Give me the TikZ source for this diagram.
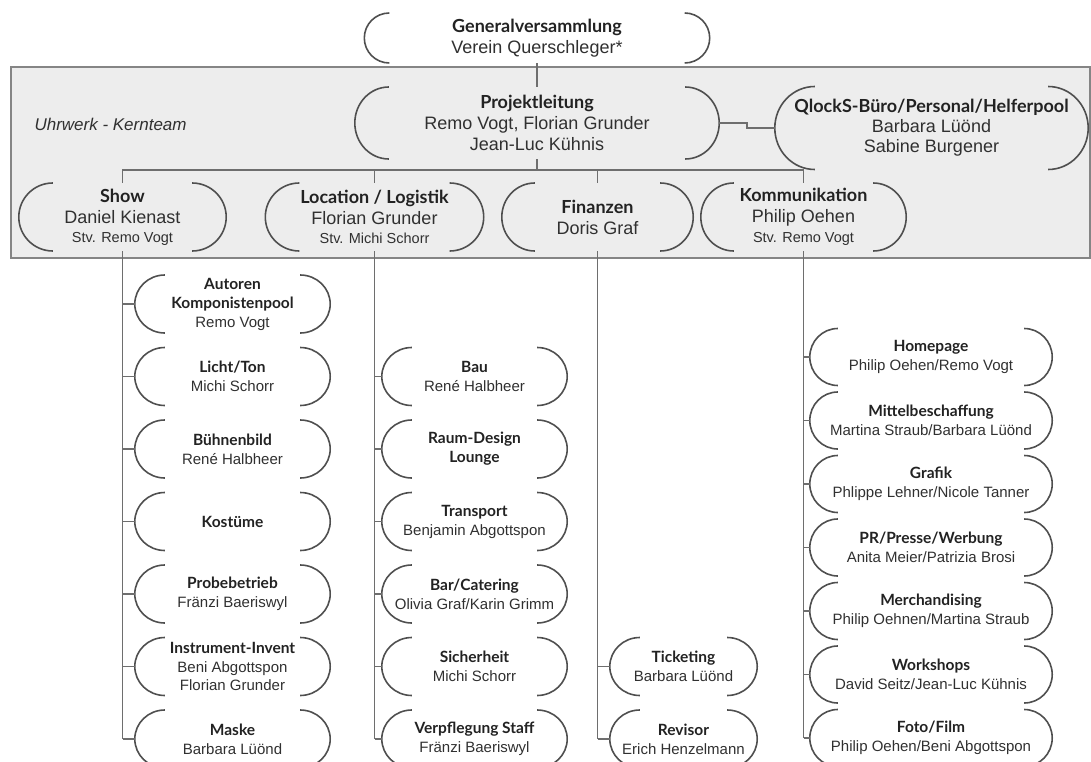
\documentclass[tikz,border=0pt]{standalone}
\usepackage{fontspec}
\setmainfont{Liberation Sans}
\newfontfamily\titlef{Lato}
\usetikzlibrary{calc}
\definecolor{bandfill}{HTML}{EDEDED}
\definecolor{bandline}{HTML}{858585}
\definecolor{brkcol}{HTML}{4F4F4F}
\definecolor{conncol}{HTML}{6E6E6E}
\definecolor{titlecol}{HTML}{222222}
\definecolor{namecol}{HTML}{303030}
\newcommand\TTop{\titlef\bfseries\fontsize{18}{21}\selectfont\color{titlecol}}
\newcommand\NTop{\fontsize{18}{21}\selectfont\color{namecol}}
\newcommand\STop{\fontsize{14.5}{21}\selectfont\color{namecol}}
\newcommand\TSub{\titlef\bfseries\fontsize{15.5}{19}\selectfont\color{titlecol}}
\newcommand\NSub{\fontsize{15}{19}\selectfont\color{namecol}}
% brackets: name, half height, depth
\newcommand\brk[3]{%
  \draw[bracket] ([xshift={#3*1pt}, yshift={#2*1pt}]#1.west) arc[start angle=90, end angle=270, x radius={#3*1pt}, y radius={#2*1pt}];
  \draw[bracket] ([xshift={-#3*1pt}, yshift={#2*1pt}]#1.east) arc[start angle=90, end angle=-90, x radius={#3*1pt}, y radius={#2*1pt}];
}
\tikzset{
  bracket/.style={draw=brkcol, line width=1.6pt},
  conn/.style={draw=conncol, line width=1.5pt},
  band/.style={fill=bandfill, draw=bandline, line width=2pt},
  topbox/.style={align=center, inner sep=0pt, font=\fontsize{18}{21}\selectfont},
  subbox/.style={align=center, inner sep=0pt, font=\fontsize{15}{19}\selectfont, minimum width=#1},
}
\begin{document}
\begin{tikzpicture}[x=1pt, y=-1pt]
\useasboundingbox (0,0) rectangle (1091,762);
\path[band] (11,67) rectangle (1090,258);
\node[anchor=west, font=\fontsize{17}{20}\selectfont\itshape, text=namecol] (uhr) at (31,124) {Uhrwerk - Kernteam};

% top level
\node[topbox, minimum width=345, minimum height=50] (gen) at (537,38) {{\TTop Generalversammlung}\\{\NTop Verein Querschleger*}};
\node[topbox, minimum width=364, minimum height=72] (proj) at (537,123) {{\TTop Projektleitung}\\{\NTop Remo Vogt, Florian Grunder}\\{\NTop Jean-Luc Kühnis}};
\node[topbox, minimum width=313, minimum height=83] (qlock) at (931.5,128) {{\TTop QlockS-Büro/Personal/Helferpool}\\[-1pt]{\NTop Barbara Lüönd}\\[-1pt]{\NTop Sabine Burgener}};
\node[topbox, minimum width=207, minimum height=68] (show) at (122.5,217) {{\TTop Show}\\{\NTop Daniel Kienast}\\[-2pt]{\STop Stv. Remo Vogt}};
\node[topbox, minimum width=218, minimum height=68] (loc) at (374.5,217) {{\TTop Location / Logistik}\\{\NTop Florian Grunder}\\[-2pt]{\STop Stv. Michi Schorr}};
\node[topbox, minimum width=191, minimum height=68] (fin) at (597.5,217) {{\TTop Finanzen}\\{\NTop Doris Graf}};
\node[topbox, minimum width=205, minimum height=68] (komm) at (803.5,217) {{\TTop Kommunikation}\\{\NTop Philip Oehen}\\[-1pt]{\STop Stv. Remo Vogt}};
\brk{gen}{25}{25}
\brk{proj}{36}{34}
\brk{qlock}{41.5}{40}
\brk{show}{34}{34}
\brk{loc}{34}{34}
\brk{fin}{34}{33}
\brk{komm}{34}{33}

% column A
\node[subbox=195] (a1) at (232.5,304) {{\TSub Autoren}\\{\TSub Komponistenpool}\\{\NSub Remo Vogt}};
\node[subbox=195] (a2) at (232.5,376.5) {{\TSub Licht/Ton}\\{\NSub Michi Schorr}};
\node[subbox=195] (a3) at (232.5,449) {{\TSub Bühnenbild}\\{\NSub René Halbheer}};
\node[subbox=195] (a4) at (232.5,521.5) {{\TSub Kostüme}};
\node[subbox=195] (a5) at (232.5,594) {{\TSub Probebetrieb}\\{\NSub Fränzi Baeriswyl}};
\node[subbox=195] (a6) at (232.5,666.5) {{\TSub Instrument-Invent}\\[-0.5pt]{\NSub Beni Abgottspon}\\[-0.5pt]{\NSub Florian Grunder}};
\node[subbox=195] (a7) at (232.5,739) {{\TSub Maske}\\{\NSub Barbara Lüönd}};
% column B
\node[subbox=185] (b1) at (474.5,376.5) {{\TSub Bau}\\{\NSub René Halbheer}};
\node[subbox=185] (b2) at (474.5,449) {{\TSub Raum-Design}\\{\TSub Lounge}};
\node[subbox=185] (b3) at (474.5,521.5) {{\TSub Transport}\\{\NSub Benjamin Abgottspon}};
\node[subbox=185] (b4) at (474.5,594) {{\TSub Bar/Catering}\\{\NSub Olivia Graf/Karin Grimm}};
\node[subbox=185] (b5) at (474.5,666.5) {{\TSub Sicherheit}\\{\NSub Michi Schorr}};
\node[subbox=185] (b6) at (474.5,739) {{\TSub Verpflegung Staff}\\{\NSub Fränzi Baeriswyl}};
% column C
\node[subbox=147] (c1) at (683.5,666.5) {{\TSub Ticketing}\\{\NSub Barbara Lüönd}};
\node[subbox=147] (c2) at (683.5,739) {{\TSub Revisor}\\{\NSub Erich Henzelmann}};
% column D
\node[subbox=242] (d1) at (931,357) {{\TSub Homepage}\\{\NSub Philip Oehen/Remo Vogt}};
\node[subbox=242] (d2) at (931,420.5) {{\TSub Mittelbeschaffung}\\{\NSub Martina Straub/Barbara Lüönd}};
\node[subbox=242] (d3) at (931,484) {{\TSub Grafik}\\{\NSub Phlippe Lehner/Nicole Tanner}};
\node[subbox=242] (d4) at (931,547.5) {{\TSub PR/Presse/Werbung}\\{\NSub Anita Meier/Patrizia Brosi}};
\node[subbox=242] (d5) at (931,611) {{\TSub Merchandising}\\{\NSub Philip Oehnen/Martina Straub}};
\node[subbox=242] (d6) at (931,674.5) {{\TSub Workshops}\\{\NSub David Seitz/Jean-Luc Kühnis}};
\node[subbox=242] (d7) at (931,738) {{\TSub Foto/Film}\\{\NSub Philip Oehen/Beni Abgottspon}};

\foreach \n in {a1,a2,a3,a4,a5,a6,a7,b1,b2,b3,b4,b5,b6,c1,c2} {\brk{\n}{29}{30}}
\foreach \n in {d1,d2,d3,d4,d5,d6,d7} {\brk{\n}{28.5}{28}}

% connectors
\coordinate (bar) at (537,170);
\draw[conn] (gen.south) -- (proj.north);
\draw[conn] (proj.east) -- ++(28,0) |- (qlock.west);
\draw[conn] (proj.south) -- (bar);
\draw[conn] (show.north) -- (show.north |- bar) -- (komm.north |- bar) -- (komm.north);
\draw[conn] (loc.north) -- (loc.north |- bar);
\draw[conn] (fin.north) -- (fin.north |- bar);

\draw[conn] (show.south) -- (show.south |- a7.west);
\foreach \n in {a1,a2,a3,a4,a5,a6,a7} {\draw[conn] (show.south |- \n.west) -- (\n.west);}
\draw[conn] (loc.south) -- (loc.south |- b6.west);
\foreach \n in {b1,b2,b3,b4,b5,b6} {\draw[conn] (loc.south |- \n.west) -- (\n.west);}
\draw[conn] (fin.south) -- (fin.south |- c2.west);
\foreach \n in {c1,c2} {\draw[conn] (fin.south |- \n.west) -- (\n.west);}
\draw[conn] (komm.south) -- (komm.south |- d7.west);
\foreach \n in {d1,d2,d3,d4,d5,d6,d7} {\draw[conn] (komm.south |- \n.west) -- (\n.west);}
\end{tikzpicture}
\end{document}
